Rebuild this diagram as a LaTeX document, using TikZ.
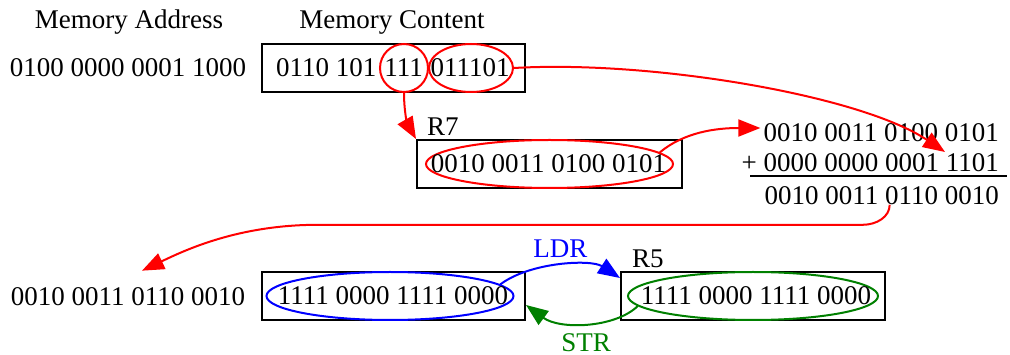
\documentclass[tikz,border=0pt]{standalone}
\usepackage{fontspec}
\setmainfont{Liberation Serif}
\usetikzlibrary{arrows.meta,shapes.geometric}
\definecolor{STRGreen}{RGB}{0, 128, 0}

\begin{document}
\begin{tikzpicture}[x=1pt, y=-1pt, >={Triangle[length=22pt,width=17pt]},
    every node/.style={font=\fontsize{27}{32}\selectfont, inner sep=0pt},
    cell/.style={draw, line width=2pt, minimum width=263pt, minimum height=48pt},
    oval/.style={ellipse, draw, line width=2pt, minimum height=48pt},
    link/.style={->, line width=2pt}]
          \useasboundingbox (0,0) rectangle (1010,355);
          \node[anchor=base] (hdaddr) at (129,29) {Memory Address};
          \node[anchor=base] (hdcont) at (392,29) {Memory Content};
          \node (addrA) at (128,68) {0100 0000 0001 1000};
          \node[cell] (memA) at (393.5,68) {};
          \node[anchor=west] (bitsA) at (276,68) {0110 101};
          \node[oval, red, minimum width=48pt] (immA) at (404,68) {};
          \node (immtxt) at (403.5,68) {111};
          \node[oval, red, minimum width=84pt] (offA) at (471,68) {};
          \node (offtxt) at (470,68) {011101};
          \node[cell, minimum width=265pt] (regR7) at (549.5,164) {};
          \node[anchor=base west] (lblR7) at (427,136) {R7};
          \node[oval, red, minimum width=247pt] (valR7) at (549.5,164) {};
          \node (txtR7) at (548.5,164) {0010 0011 0100 0101};
          \node[anchor=east] (sumA) at (999,133) {0010 0011 0100 0101};
          \node[anchor=east] (sumB) at (999,163) {+ 0000 0000 0001 1101};
          \node[anchor=east] (sumC) at (999,195.5) {0010 0011 0110 0010};
          \coordinate (addin) at (945,152);
          \draw[line width=2.2pt] (750,176) -- (1007,176);
          \node (addrB) at (128,297) {0010 0011 0110 0010};
          \node[cell] (memB) at (393.5,296) {};
          \node[oval, blue, minimum width=247pt] (valB) at (390,296) {};
          \node (txtB) at (393,296) {1111 0000 1111 0000};
          \node[cell, minimum width=264pt] (regR5) at (753,296) {};
          \node[anchor=base west] (lblR5) at (632,268) {R5};
          \node[oval, STRGreen, minimum width=250pt] (valR5) at (753,296) {};
          \node (txtR5) at (756,296) {1111 0000 1111 0000};
          \draw[link, red] (immA.south) .. controls +(0,20) and +(-8,-14) .. (regR7.north west);
          \draw[link, red] (offA.east) .. controls (650,60) and (860,95) .. (addin);
          \draw[link, red] (valR7.6.5) .. controls +(24,-20) and +(-45,0) .. ([xshift=-3pt,yshift=5pt]sumA.west);
          \draw[link, red] ([xshift=8pt]sumC.south) .. controls +(0,12) and +(14,0) .. ++(-27,20) -- ++(-545,0) .. controls +(-80,0) and +(42,-20) .. ([xshift=14pt,yshift=17pt]addrB.north);
          \draw[link, blue] (valB.6) .. controls (530,262) and (591,259) .. ([yshift=-7pt]regR5.north west) node[midway, above=7pt, blue] (lblLDR) {LDR};
          \draw[link, STRGreen] (valR5.185) .. controls (615,328) and (560,330) .. ([yshift=-9pt]memB.east) node[midway, below=9pt, STRGreen] (lblSTR) {STR};
        \end{tikzpicture}
\end{document}
